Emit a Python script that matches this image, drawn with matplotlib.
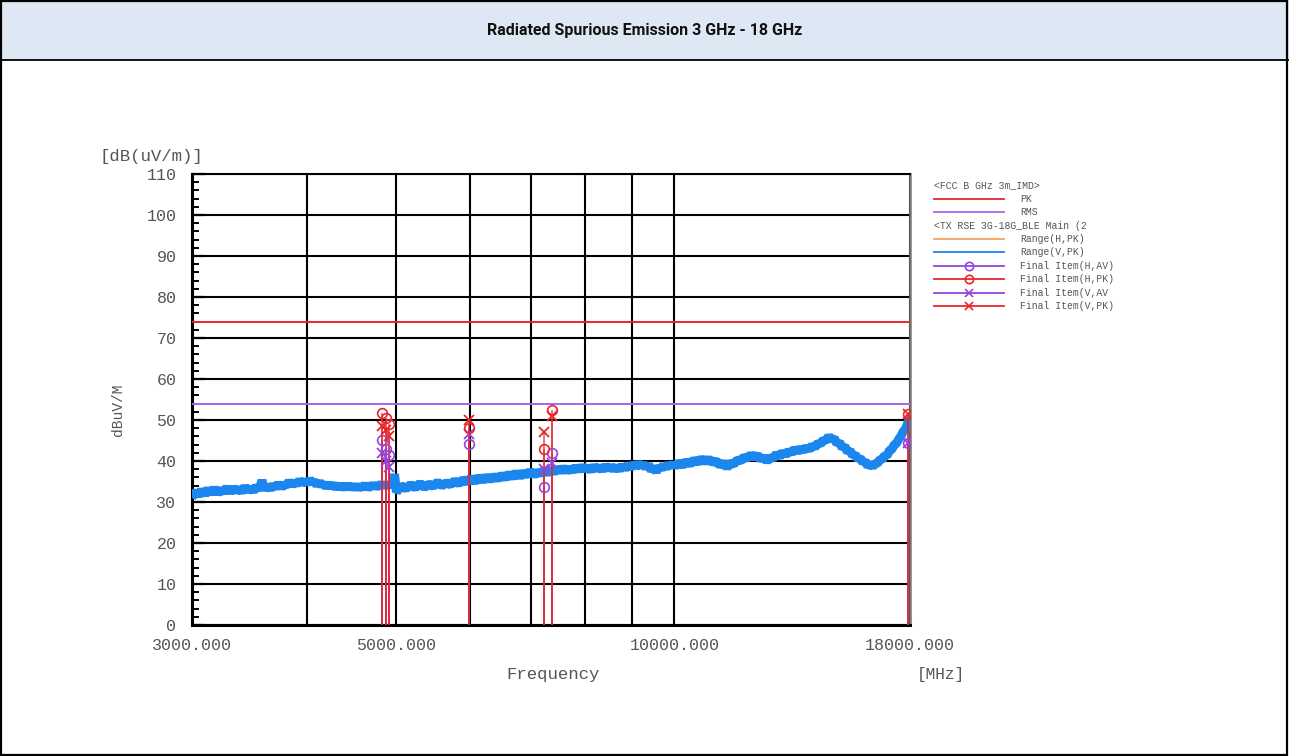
import matplotlib

matplotlib.use("Agg")
import matplotlib.pyplot as plt
from matplotlib.lines import Line2D
from matplotlib.patches import Rectangle

TITLE = "Radiated Spurious Emission 3 GHz - 18 GHz"

X_RANGE = [3000, 18000]
X_TICKS = [3000, 5000, 10000, 18000]
X_TICK_LABELS = ["3000.000", "5000.000", "10000.000", "18000.000"]
GRID_FREQS = [4000, 6000, 7000, 8000, 9000]
Y_TICKS = [0, 10, 20, 30, 40, 50, 60, 70, 80, 90, 100, 110]

LIMIT_PK = 74
LIMIT_RMS = 54

# vertical polarisation sweep (peak): sweep grid + levels
TRACE_V_FREQ = list(range(3000, 5000, 25)) + list(range(5000, 10000, 60)) + list(range(10000, 18001, 100))
TRACE_V_LEVEL = [
    # 3000 - 4975 MHz
    31.0, 32.6, 31.6, 32.9, 31.8, 33.2, 32.0, 33.4, 32.1, 33.0, 32.4, 33.6, 32.3, 33.5, 32.6, 33.3, 32.4, 33.8, 32.7, 33.4,
    32.6, 33.9, 32.9, 35.3, 33.0, 34.0, 33.1, 34.2, 33.4, 34.6, 33.5, 34.3, 33.9, 35.1, 34.1, 34.8, 34.2, 35.4, 34.5, 35.2,
    34.4, 35.6, 34.6, 35.2, 34.0, 35.0, 33.9, 34.6, 33.5, 34.4, 33.6, 34.5, 33.2, 34.3, 33.4, 34.2, 33.1, 34.4, 33.3, 34.0,
    33.2, 34.3, 33.0, 34.1, 33.3, 34.5, 33.1, 34.0, 33.4, 34.6, 33.3, 34.2, 33.6, 34.8, 33.5, 34.4, 33.8, 34.7, 33.6, 36.8,
    # 5000 - 9980 MHz
    32.4, 34.0, 33.2, 34.3, 33.4, 34.6, 33.5, 34.4, 33.8, 34.9, 33.9, 34.7,
    34.2, 35.2, 34.4, 35.5, 34.8, 35.9, 34.9, 36.1, 35.2, 36.2, 35.4, 36.3,
    35.6, 36.6, 35.8, 36.9, 36.0, 37.2, 36.1, 37.3, 36.4, 37.6, 36.5, 37.4,
    36.8, 37.8, 36.9, 38.0, 37.1, 38.3, 37.4, 38.4, 37.5, 38.2, 37.6, 38.6,
    37.7, 38.7, 37.9, 38.5, 37.6, 38.8, 37.9, 38.6, 37.7, 38.9, 38.0, 38.7,
    37.9, 38.6, 37.8, 38.9, 38.1, 39.0, 38.2, 39.4, 38.4, 39.6, 38.6, 39.3,
    38.3, 39.2, 37.6, 38.4, 37.3, 38.7, 38.0, 39.1, 38.2, 39.4, 38.5, 39.6,
    # 10000 - 18000 MHz
    38.6, 39.6, 38.9, 39.9, 39.2, 40.3, 39.6, 40.6, 39.8, 40.5,
    39.6, 40.1, 38.9, 39.6, 38.4, 39.5, 39.2, 40.3, 40.0, 41.0,
    40.6, 41.6, 40.8, 41.5, 40.3, 41.0, 39.9, 40.9, 40.6, 41.8,
    41.0, 42.2, 41.4, 42.5, 41.9, 43.0, 42.2, 43.1, 42.5, 43.4,
    42.7, 43.8, 43.3, 44.4, 44.1, 45.2, 44.9, 46.1, 45.2, 45.6,
    44.2, 44.6, 43.2, 43.6, 42.2, 42.6, 41.3, 41.6, 40.4, 40.8,
    39.6, 40.0, 38.7, 39.2, 38.6, 39.4, 39.4, 40.4, 40.3, 41.4,
    41.3, 42.6, 42.8, 43.9, 44.3, 45.3, 46.1, 47.2, 47.8, 49.2,
    50.5,
]

# horizontal polarisation sweep (peak), mostly hidden under the vertical one
TRACE_H_FREQ = [
    3000, 3200, 3400, 3600, 3800, 4000, 4300, 4600, 4900, 5200, 5600, 6000,
    6500, 7000, 7500, 8000, 8700, 9400, 10000, 10800, 11500, 12300, 13200,
    14000, 14700, 15300, 16000, 16600, 17200, 17700, 18000,
]
TRACE_H_LEVEL = [
    31.5, 32.4, 32.8, 33.4, 34.2, 35.0, 33.8, 33.6, 34.0, 34.2, 34.8, 35.6,
    36.4, 37.0, 37.6, 38.2, 38.6, 38.8, 39.2, 39.8, 40.2, 41.0, 42.0, 43.4,
    45.6, 43.4, 40.0, 40.0, 43.6, 47.0, 50.0,
]

# final measurement items
FINAL_FREQ = [4825, 4865, 4905, 5996, 7225, 7370, 17900]
FINAL_H_AV = [45.2, 43.0, 41.5, 44.2, 33.7, 42.0, 44.5]
FINAL_H_PK = [51.8, 50.5, 49.0, 48.0, 43.0, 52.5, 51.5]
FINAL_V_AV = [42.0, 40.0, 38.5, 46.5, 38.0, 39.5, 44.5]
FINAL_V_PK = [48.5, 47.5, 46.0, 50.0, 47.0, 51.0, 51.5]

RED = "#e8262a"
PURPLE = "#9444e0"
RMS_COLOR = "#a466ec"
BLUE = "#1a86ee"
ORANGE = "#f4a462"
TEXT_GRAY = "#555555"
MONO = "Liberation Mono"

W, H = 1289, 756


def fx(px):
    return px / W


def fy(py):
    return 1 - py / H


fig = plt.figure(figsize=(W / 100, H / 100), dpi=100)

# table-like frame with a light blue header
fig.patches.append(Rectangle((0, fy(60)), 1, 1 - fy(60), transform=fig.transFigure,
                             facecolor="#dee8f4", edgecolor="none", zorder=0))
fig.patches.append(Rectangle((fx(1), fy(755)), fx(1286), fy(1) - fy(755), transform=fig.transFigure,
                             facecolor="none", edgecolor="black", linewidth=1.6, zorder=1))
fig.add_artist(Line2D([0, 1], [fy(60), fy(60)], transform=fig.transFigure, color="black", linewidth=1.3))
fig.text(0.5, fy(31), TITLE, ha="center", va="center", fontsize=11.5, fontweight="bold",
         family=["Roboto", "DejaVu Sans"], color="#111111")

ax = fig.add_axes([fx(191.7), fy(625), fx(910) - fx(191.7), fy(174) - fy(625)])
ax.set_xscale("log")
ax.set_xlim(*X_RANGE)
ax.set_ylim(Y_TICKS[0], Y_TICKS[-1])

# limits
ax.axhline(LIMIT_PK, color=RED, linewidth=1.4, zorder=3)
ax.axhline(LIMIT_RMS, color=RMS_COLOR, linewidth=1.4, zorder=3)

# sweeps
ax.plot(TRACE_H_FREQ, TRACE_H_LEVEL, color=ORANGE, linewidth=1.5, zorder=3)
ax.plot(TRACE_V_FREQ, TRACE_V_LEVEL, color=BLUE, linewidth=6.5,
        solid_joinstyle="bevel", solid_capstyle="butt", zorder=4)

# final items: stems from the floor plus markers
series = [
    (FINAL_H_AV, PURPLE, "o"),
    (FINAL_V_AV, PURPLE, "x"),
    (FINAL_H_PK, RED, "o"),
    (FINAL_V_PK, RED, "x"),
]
for values, color, marker in series:
    ax.vlines(FINAL_FREQ, 0, values, color=color, linewidth=1.2, alpha=0.75, zorder=5)
for values, color, marker in series:
    if marker == "o":
        ax.plot(FINAL_FREQ, values, linestyle="none", marker="o", markersize=7,
                markerfacecolor="none", markeredgecolor=color, markeredgewidth=1.2, zorder=6)
    else:
        ax.plot(FINAL_FREQ, values, linestyle="none", marker="x", markersize=7,
                color=color, markeredgewidth=1.3, zorder=6)

# grid and ticks
ax.set_xticks(X_TICKS)
ax.set_xticklabels(X_TICK_LABELS)
ax.set_xticks(GRID_FREQS, minor=True)
ax.set_xticklabels([], minor=True)
ax.set_yticks(Y_TICKS)
ax.set_yticks(range(Y_TICKS[0], Y_TICKS[-1] + 1, 2), minor=True)
ax.grid(True, axis="y", which="major", color="black", linewidth=1.5, zorder=1)
ax.grid(True, axis="x", which="both", color="black", linewidth=1.5, zorder=1)
ax.set_axisbelow(True)
ax.tick_params(axis="x", which="both", length=0, pad=9, labelsize=12, labelcolor=TEXT_GRAY)
ax.tick_params(axis="y", which="major", direction="in", length=9, width=1.6, pad=11,
               labelsize=12, labelcolor=TEXT_GRAY)
ax.tick_params(axis="y", which="minor", direction="in", length=5, width=1.4)
for lab in ax.get_xticklabels() + ax.get_yticklabels():
    lab.set_family(MONO)
for side in ["left", "bottom"]:
    ax.spines[side].set_linewidth(2.2)
ax.spines["top"].set_linewidth(1.5)
ax.spines["right"].set_linewidth(1.8)
ax.spines["right"].set_color("#777777")

# axis texts
fig.text(fx(100), fy(157), "[dB(uV/m)]", ha="left", va="center", fontsize=12.5,
         family=MONO, color=TEXT_GRAY)
fig.text(fx(118), fy(410), "dBuV/M", ha="center", va="center", rotation=90,
         fontsize=10.5, family=MONO, color=TEXT_GRAY)
fig.text(fx(553), fy(674), "Frequency", ha="center", va="center", fontsize=12.5,
         family=MONO, color=TEXT_GRAY)
fig.text(fx(941), fy(674), "[MHz]", ha="center", va="center", fontsize=11.5,
         family=MONO, color=TEXT_GRAY)

# legend drawn by hand to match the instrument layout
legend_rows = [
    ("<FCC B GHz 3m_IMD>", None, None, 185),
    ("PK", RED, None, 199),
    ("RMS", RMS_COLOR, None, 212),
    ("<TX RSE 3G-18G_BLE Main (2", None, None, 226),
    ("Range(H,PK)", ORANGE, None, 239),
    ("Range(V,PK)", BLUE, None, 252),
    ("Final Item(H,AV)", PURPLE, "o", 266),
    ("Final Item(H,PK)", RED, "o", 279),
    ("Final Item(V,AV", PURPLE, "x", 293),
    ("Final Item(V,PK)", RED, "x", 306),
]
for label, color, marker, py in legend_rows:
    if color is None:
        fig.text(fx(934), fy(py), label, ha="left", va="center", fontsize=7,
                 family=MONO, color=TEXT_GRAY)
        continue
    fig.add_artist(Line2D([fx(934), fx(1004)], [fy(py), fy(py)], transform=fig.transFigure,
                          color=color, linewidth=1.3))
    if marker is not None:
        fig.add_artist(Line2D([fx(969)], [fy(py)], transform=fig.transFigure, color=color,
                              marker=marker, markersize=6, markerfacecolor="none",
                              markeredgewidth=1.2, linestyle="none"))
    fig.text(fx(1020), fy(py), label, ha="left", va="center", fontsize=7,
             family=MONO, color=TEXT_GRAY)

fig.savefig("out.png", dpi=100)
